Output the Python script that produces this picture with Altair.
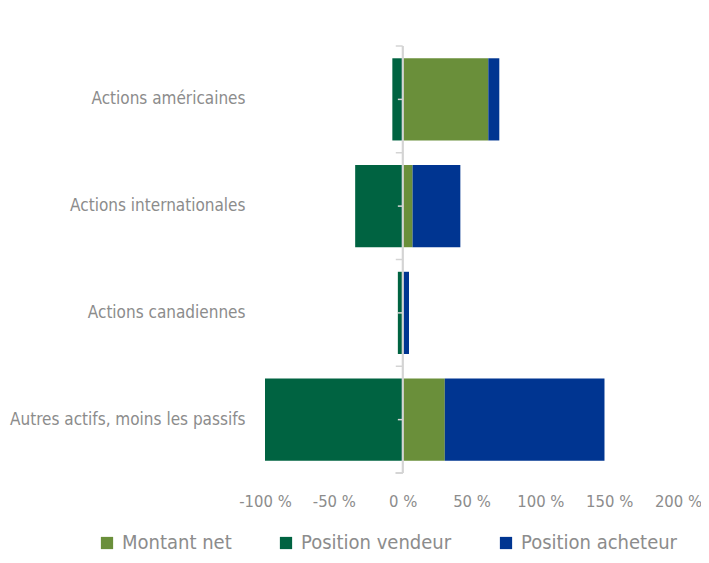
import altair as alt
import pandas as pd

categories = ["Actions américaines", "Actions internationales", "Actions canadiennes",
              "Autres actifs, moins les passifs"]
series = ["Montant net", "Position vendeur", "Position acheteur"]
colors = ["#6a8f3a", "#006341", "#003591"]

net = [62.2, 7.2, 0.3, 30.6]
vendeur = [-7.5, -34.5, -3.5, -100.0]
acheteur = [8.0, 34.7, 4.3, 116.0]

x_ticks = [-100, -50, 0, 50, 100, 150, 200]

rows = []
for i, c in enumerate(categories):
    rows.append({"cat": c, "series": series[0], "value": net[i], "ord": 0})
    rows.append({"cat": c, "series": series[1], "value": vendeur[i], "ord": 1})
    rows.append({"cat": c, "series": series[2], "value": acheteur[i], "ord": 2})
df = pd.DataFrame(rows)
cat_df = pd.DataFrame({"cat": categories})

FONT = "Liberation Sans Narrow, DejaVu Sans Condensed, sans-serif"
GRAY = "#8c8c8c"
LINE = "#d4d4d4"

yscale = alt.Scale(paddingInner=0, paddingOuter=0)
yaxis = alt.Axis(domain=False, ticks=False, tickSize=0, labelPadding=20,
                 labelFontSize=17, labelColor=GRAY, labelFont=FONT, labelLimit=300)

bars = alt.Chart(df).mark_bar(height=alt.RelativeBandSize(0.77)).encode(
    y=alt.Y("cat:N", sort=categories, scale=yscale, title=None, axis=yaxis),
    x=alt.X("value:Q", stack="zero",
            scale=alt.Scale(domain=[-100, 200], nice=False, zero=False),
            title=None,
            axis=alt.Axis(values=x_ticks, domain=False, ticks=False, grid=False,
                          labelOverlap=False, labelFlush=False,
                          labelExpr="datum.value + ' %'", labelFontSize=16.5,
                          labelColor=GRAY, labelFont=FONT, labelPadding=20)),
    color=alt.Color("series:N", scale=alt.Scale(domain=series, range=colors),
                    legend=alt.Legend(title=None, orient="none", direction="horizontal",
                                      legendX=-168, legendY=487,
                                      symbolType="square", symbolSize=150,
                                      symbolStrokeWidth=0, labelFontSize=20,
                                      labelColor=GRAY, labelFont=FONT,
                                      columnPadding=44, labelOffset=5)),
    order=alt.Order("ord:Q"),
)

zero_line = alt.Chart(cat_df).mark_rule(color=LINE, strokeWidth=1.5).encode(
    x=alt.datum(0)
)

edge_ticks = alt.Chart(cat_df).mark_rule(color=LINE, strokeWidth=1.5).encode(
    y=alt.Y("cat:N", sort=categories, bandPosition=0, title=None, axis=yaxis),
    x=alt.datum(-5),
    x2=alt.datum(0),
)

bottom_tick = alt.Chart(cat_df).mark_rule(color=LINE, strokeWidth=1.5).encode(
    y=alt.value(427),
    x=alt.datum(-5),
    x2=alt.datum(0),
)

mid_ticks = alt.Chart(cat_df).mark_rule(color=LINE, strokeWidth=1.5).encode(
    y=alt.Y("cat:N", sort=categories, bandPosition=0.5, title=None, axis=yaxis),
    x=alt.datum(-3.5),
    x2=alt.datum(0),
)

chart = alt.layer(bars, zero_line, edge_ticks, bottom_tick, mid_ticks).properties(
    width=413, height=427,
    autosize=alt.AutoSizeParams(type="none"),
    padding={"left": 257, "top": 38, "right": 23, "bottom": 82},
).configure_view(stroke=None)

chart.save("out.html", embed_options={"renderer": "svg", "actions": False})
